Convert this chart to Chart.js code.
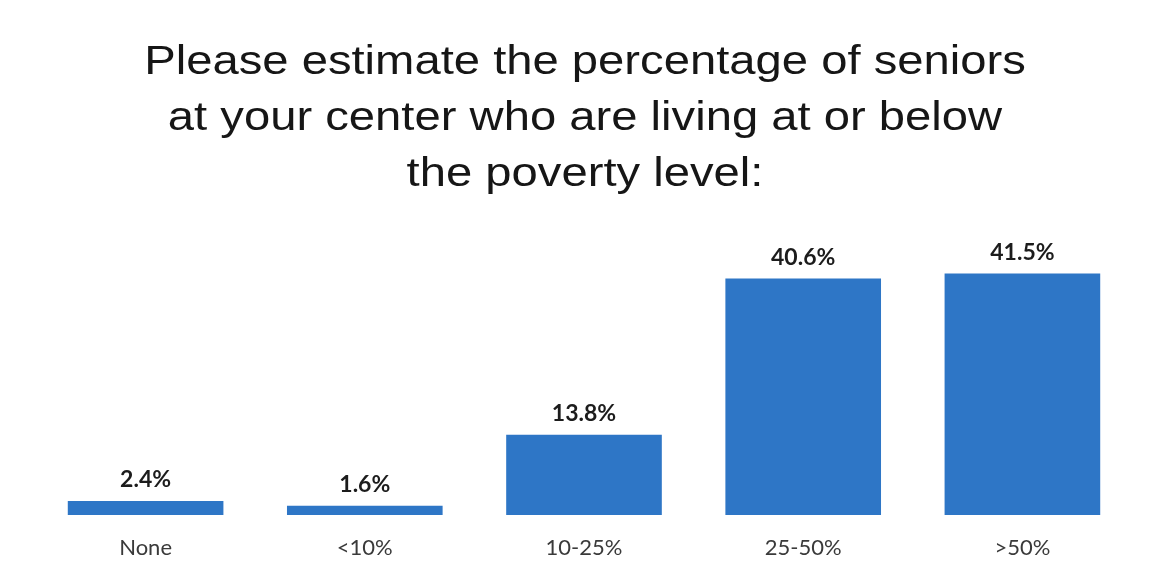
<!DOCTYPE html>
<html>
<head>
<meta charset="utf-8">
<script src="https://cdn.jsdelivr.net/npm/chart.js@4.4.1/dist/chart.umd.min.js"></script>
<style>
  html, body { margin: 0; padding: 0; background: #ffffff; }
  #wrap { width: 1162px; height: 573px; }
</style>
</head>
<body>
<div id="wrap"><canvas id="myChart" width="1162" height="573"></canvas></div>
<script>
var categories = ["None", "<10%", "10-25%", "25-50%", ">50%"];
var percentages = [2.4, 1.6, 13.8, 40.6, 41.5];
var titleLines = [
    "Please estimate the percentage of seniors",
    "at your center who are living at or below",
    "the poverty level:"
];

// titulo en tres lineas, algo ensanchado horizontalmente
const wideTitle = {
    id: "wideTitle",
    afterDraw(chart) {
        const ctx = chart.ctx;
        ctx.save();
        ctx.font = "40px 'Liberation Sans'";
        ctx.fillStyle = "#161616";
        ctx.textAlign = "center";
        ctx.textBaseline = "alphabetic";
        titleLines.forEach((line, i) => {
            ctx.save();
            ctx.translate(585, 74 + i * 56);
            ctx.scale(1.18, 1);
            ctx.fillText(line, 0, 0);
            ctx.restore();
        });
        ctx.restore();
    }
};

// etiquetas de valor encima de cada barra
const valueLabels = {
    id: "valueLabels",
    afterDatasetsDraw(chart) {
        const ctx = chart.ctx;
        const meta = chart.getDatasetMeta(0);
        ctx.save();
        ctx.font = "bold 23px Lato";
        ctx.fillStyle = "#1c1c1c";
        ctx.textAlign = "center";
        ctx.textBaseline = "middle";
        meta.data.forEach((bar, i) => {
            ctx.fillText(percentages[i].toFixed(1) + "%", bar.x, bar.y - 21);
        });
        ctx.restore();
    }
};

const data = {
    labels: categories,
    datasets: [{
        data: percentages,
        backgroundColor: "#2e76c6",
        borderWidth: 0,
        categoryPercentage: 1,
        barPercentage: 0.71
    }]
};

const config = {
    type: "bar",
    data: data,
    options: {
        responsive: false,
        animation: false,
        layout: {
            padding: { left: 36, right: 30, top: 253, bottom: 14 }
        },
        scales: {
            x: {
                grid: { display: false, drawTicks: false, tickLength: 0 },
                border: { display: false },
                ticks: {
                    padding: 20,
                    color: "#3a3a3a",
                    font: { family: "Lato", size: 22 }
                },
                afterFit: (axis) => { axis.height = 44; }
            },
            y: {
                display: false,
                min: 0,
                max: 45
            }
        },
        plugins: {
            legend: { display: false },
            tooltip: { enabled: false },
            title: { display: false }
        }
    },
    plugins: [valueLabels, wideTitle]
};

const ctx = document.getElementById("myChart").getContext("2d");
const myChart = new Chart(ctx, config);
</script>
</body>
</html>
